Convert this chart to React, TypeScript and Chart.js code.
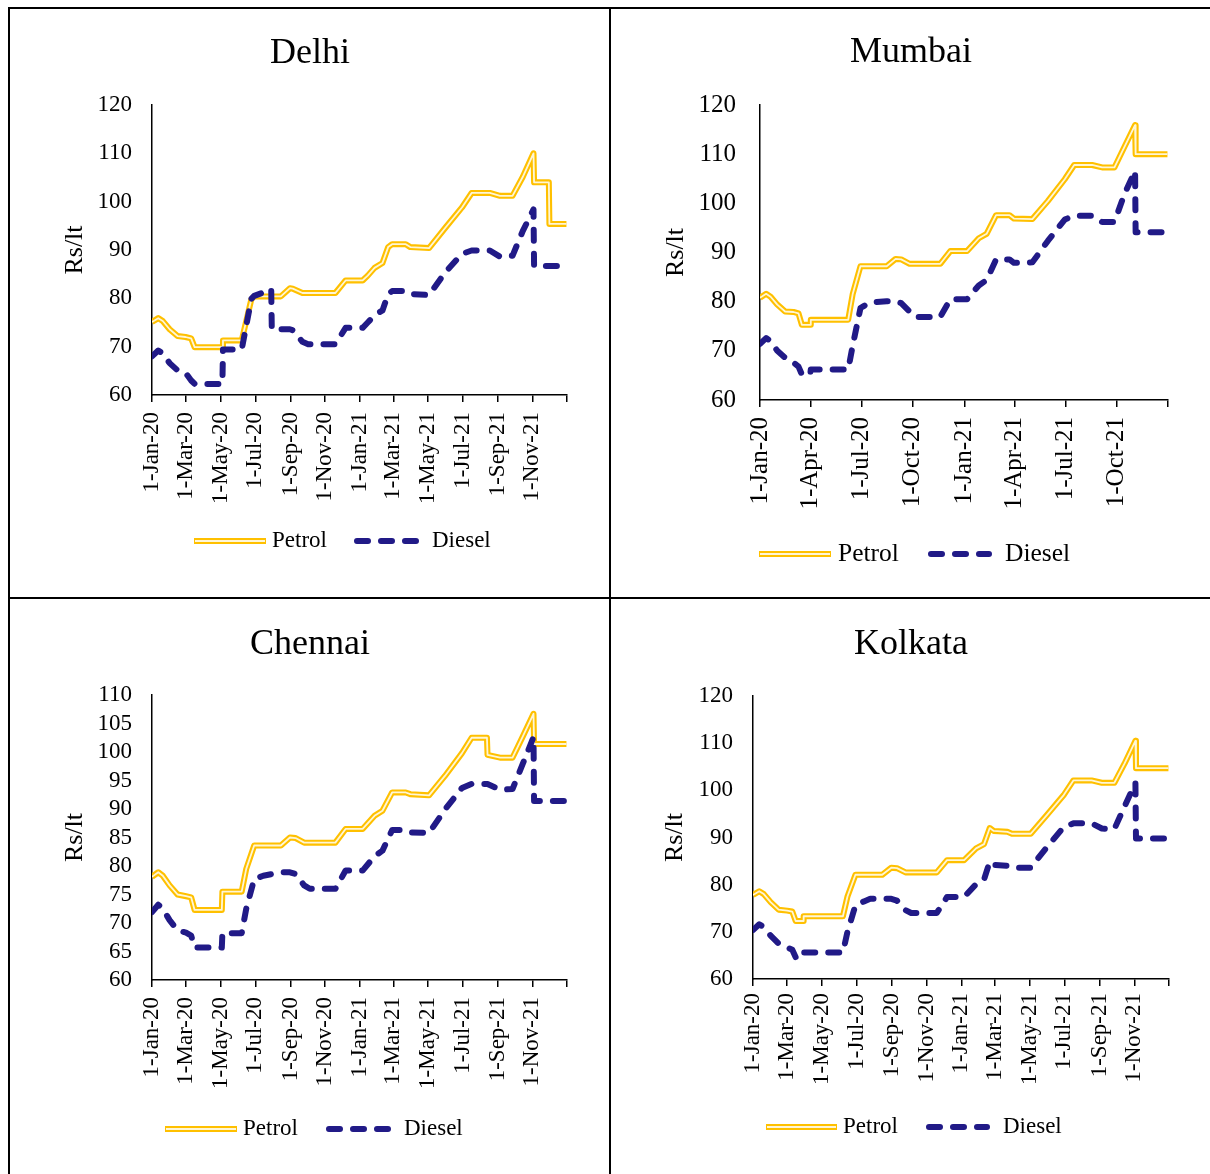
import React, { useEffect, useRef } from 'react';
import { Chart, registerables } from 'chart.js';

Chart.register(...registerables);

const FONT = "'Liberation Serif', 'Times New Roman', Times, serif";
const PETROL_GOLD = '#FFC000';
const PETROL_INNER = '#FFF6D6';
const DIESEL_NAVY = '#211A87';

// ---------- tick labels ----------
const twoMonthTickDates = ['2020-01-01', '2020-03-01', '2020-05-01', '2020-07-01', '2020-09-01', '2020-11-01', '2021-01-01', '2021-03-01', '2021-05-01', '2021-07-01', '2021-09-01', '2021-11-01', '2022-01-01'];
const twoMonthTickLabels = ['1-Jan-20', '1-Mar-20', '1-May-20', '1-Jul-20', '1-Sep-20', '1-Nov-20', '1-Jan-21', '1-Mar-21', '1-May-21', '1-Jul-21', '1-Sep-21', '1-Nov-21', ''];
const quarterTickDates = ['2020-01-01', '2020-04-01', '2020-07-01', '2020-10-01', '2021-01-01', '2021-04-01', '2021-07-01', '2021-10-01', '2022-01-01'];
const quarterTickLabels = ['1-Jan-20', '1-Apr-20', '1-Jul-20', '1-Oct-20', '1-Jan-21', '1-Apr-21', '1-Jul-21', '1-Oct-21', ''];

// ---------- Delhi ----------
const delhiDates = ['2020-01-01', '2020-01-12', '2020-01-20', '2020-02-01', '2020-02-15', '2020-02-29', '2020-03-10', '2020-03-16', '2020-05-04', '2020-05-05', '2020-06-07', '2020-06-24', '2020-06-29', '2020-07-15', '2020-07-29', '2020-07-30', '2020-08-15', '2020-08-31', '2020-09-05', '2020-09-22', '2020-10-02', '2020-11-19', '2020-12-07', '2021-01-06', '2021-01-15', '2021-01-27', '2021-02-10', '2021-02-20', '2021-02-27', '2021-03-23', '2021-03-31', '2021-05-03', '2021-05-31', '2021-06-30', '2021-07-17', '2021-08-18', '2021-09-05', '2021-09-27', '2021-10-15', '2021-11-03', '2021-11-04', '2021-11-30', '2021-12-01', '2021-12-31'];
const delhiPetrol = [75.1, 75.9, 75.3, 73.6, 72.2, 72.0, 71.7, 69.9, 69.9, 71.3, 71.3, 79.8, 80.4, 80.4, 80.4, 80.4, 80.4, 82.1, 82.0, 81.1, 81.1, 81.1, 83.7, 83.7, 84.7, 86.3, 87.3, 90.6, 91.2, 91.2, 90.6, 90.4, 94.5, 98.8, 101.8, 101.8, 101.2, 101.2, 105.1, 110.0, 104.0, 104.0, 95.4, 95.4];
const delhiDiesel = [68.0, 69.2, 68.6, 66.6, 65.1, 64.6, 63.0, 62.3, 62.3, 69.4, 69.4, 79.9, 80.5, 81.2, 81.9, 73.6, 73.6, 73.6, 73.4, 71.0, 70.5, 70.5, 73.9, 73.9, 75.0, 76.5, 77.5, 80.9, 81.5, 81.5, 80.9, 80.7, 85.3, 89.2, 89.9, 89.9, 88.6, 88.8, 93.9, 98.4, 86.7, 86.7, 86.7, 86.7];

// ---------- Mumbai ----------
const mumbaiDates = ['2020-01-01', '2020-01-12', '2020-01-20', '2020-02-01', '2020-02-15', '2020-03-01', '2020-03-10', '2020-03-16', '2020-03-31', '2020-04-01', '2020-06-07', '2020-06-15', '2020-06-29', '2020-07-15', '2020-08-15', '2020-08-31', '2020-09-10', '2020-09-25', '2020-10-05', '2020-11-19', '2020-12-07', '2021-01-06', '2021-01-27', '2021-02-10', '2021-02-27', '2021-03-23', '2021-03-31', '2021-05-03', '2021-05-31', '2021-06-30', '2021-07-17', '2021-08-18', '2021-09-05', '2021-09-27', '2021-10-15', '2021-11-03', '2021-11-04', '2021-12-31'];
const mumbaiPetrol = [80.8, 81.6, 81.0, 79.4, 78.0, 77.9, 77.6, 75.3, 75.3, 76.3, 76.3, 81.5, 87.2, 87.2, 87.2, 88.7, 88.6, 87.7, 87.7, 87.7, 90.3, 90.3, 92.9, 93.8, 97.6, 97.6, 96.9, 96.8, 100.5, 104.9, 107.8, 107.8, 107.3, 107.3, 111.5, 115.9, 110.0, 110.0];
const mumbaiDiesel = [71.4, 72.6, 72.0, 70.0, 68.6, 67.6, 66.8, 65.2, 65.2, 66.2, 66.2, 71.0, 78.7, 79.8, 80.1, 80.1, 79.7, 78.0, 76.9, 76.9, 80.5, 80.5, 83.3, 84.4, 88.6, 88.6, 87.9, 88.0, 92.4, 96.7, 97.5, 97.5, 96.2, 96.2, 101.9, 106.6, 94.1, 94.1];

// ---------- Chennai ----------
const chennaiDates = ['2020-01-01', '2020-01-12', '2020-01-20', '2020-02-01', '2020-02-15', '2020-03-01', '2020-03-10', '2020-03-16', '2020-05-03', '2020-05-04', '2020-06-07', '2020-06-15', '2020-06-29', '2020-07-15', '2020-08-15', '2020-08-31', '2020-09-10', '2020-09-25', '2020-10-05', '2020-11-19', '2020-12-07', '2021-01-06', '2021-01-27', '2021-02-10', '2021-02-27', '2021-03-23', '2021-03-31', '2021-05-03', '2021-05-31', '2021-06-30', '2021-07-17', '2021-08-13', '2021-08-14', '2021-09-05', '2021-09-27', '2021-10-15', '2021-11-03', '2021-11-04', '2021-12-31'];
const chennaiPetrol = [78.1, 78.9, 78.3, 76.6, 75.0, 74.7, 74.5, 72.3, 72.3, 75.5, 75.5, 79.5, 83.6, 83.6, 83.6, 85.0, 84.9, 84.1, 84.1, 84.1, 86.5, 86.5, 88.8, 89.7, 92.9, 92.9, 92.6, 92.4, 95.8, 99.8, 102.5, 102.5, 99.5, 99.0, 99.0, 102.7, 106.7, 101.4, 101.4];
const chennaiDiesel = [71.9, 73.2, 72.5, 70.5, 68.7, 68.3, 67.8, 65.7, 65.7, 68.2, 68.2, 72.5, 77.7, 78.3, 78.9, 78.9, 78.6, 76.6, 76.0, 76.0, 79.2, 79.2, 81.7, 82.7, 86.3, 86.3, 85.9, 85.8, 89.9, 93.7, 94.4, 94.4, 94.4, 93.4, 93.5, 97.9, 102.6, 91.4, 91.4];

// ---------- Kolkata ----------
const kolkataDates = ['2020-01-01', '2020-01-12', '2020-01-20', '2020-02-01', '2020-02-15', '2020-03-01', '2020-03-10', '2020-03-16', '2020-03-29', '2020-03-30', '2020-06-07', '2020-06-15', '2020-06-29', '2020-07-15', '2020-07-25', '2020-08-15', '2020-08-31', '2020-09-10', '2020-09-25', '2020-10-05', '2020-11-19', '2020-12-07', '2021-01-06', '2021-01-27', '2021-02-10', '2021-02-20', '2021-02-27', '2021-03-23', '2021-03-31', '2021-05-03', '2021-05-31', '2021-06-30', '2021-07-17', '2021-08-18', '2021-09-05', '2021-09-27', '2021-10-15', '2021-11-03', '2021-11-04', '2021-12-31'];
const kolkataPetrol = [77.8, 78.6, 78.0, 76.3, 74.7, 74.5, 74.3, 72.3, 72.3, 73.3, 73.3, 77.5, 82.1, 82.1, 82.1, 82.1, 83.6, 83.5, 82.6, 82.6, 82.6, 85.2, 85.2, 87.7, 88.6, 92.0, 91.4, 91.2, 90.8, 90.8, 94.7, 99.0, 102.1, 102.1, 101.6, 101.6, 105.7, 110.5, 104.7, 104.7];
const kolkataDiesel = [70.4, 71.6, 71.0, 69.2, 67.5, 66.7, 66.2, 64.6, 64.6, 65.6, 65.6, 70.0, 75.6, 76.5, 77.0, 77.0, 77.0, 76.6, 74.6, 74.0, 74.0, 77.4, 77.4, 80.1, 81.1, 84.9, 84.2, 84.0, 83.6, 83.6, 87.9, 92.2, 93.0, 93.0, 91.9, 91.8, 96.6, 101.6, 89.8, 89.8];

const BASE = Date.UTC(2020, 0, 1);
function dayNum(s: string): number {
  const [y, m, d] = s.split('-').map(Number);
  return Math.round((Date.UTC(y, m - 1, d) - BASE) / 86400000);
}

type Layout = {
  left: number; top: number; width: number; height: number;
  area: { l: number; t: number; r: number; b: number };
  titleCx: number; titleBase: number; yTitleX: number;
  tickFont: number; yLabelGap: number; xLabelGap: number;
  legend: { pX1: number; pX2: number; pText: number; dX1: number; dX2: number; dText: number; y: number; font: number };
};

type PanelDef = {
  title: string; dates: string[]; petrol: number[]; diesel: number[];
  tickDates: string[]; tickLabels: string[]; yMin: number; yMax: number; yStep: number;
  layout: Layout;
};

const panels: PanelDef[] = [
  {
    title: 'Delhi', dates: delhiDates, petrol: delhiPetrol, diesel: delhiDiesel,
    tickDates: twoMonthTickDates, tickLabels: twoMonthTickLabels, yMin: 60, yMax: 120, yStep: 10,
    layout: {
      left: 12, top: 10, width: 596, height: 586,
      area: { l: 152, t: 105, r: 567, b: 395 },
      titleCx: 310, titleBase: 63, yTitleX: 75,
      tickFont: 23, yLabelGap: 20, xLabelGap: 10,
      legend: { pX1: 194, pX2: 266, pText: 272, dX1: 354, dX2: 419, dText: 432, y: 541, font: 23 },
    },
  },
  {
    title: 'Mumbai', dates: mumbaiDates, petrol: mumbaiPetrol, diesel: mumbaiDiesel,
    tickDates: quarterTickDates, tickLabels: quarterTickLabels, yMin: 60, yMax: 120, yStep: 10,
    layout: {
      left: 612, top: 10, width: 596, height: 586,
      area: { l: 760, t: 105, r: 1169, b: 400 },
      titleCx: 911, titleBase: 62, yTitleX: 676,
      tickFont: 25, yLabelGap: 24, xLabelGap: 10,
      legend: { pX1: 759, pX2: 831, pText: 838, dX1: 928, dX2: 992, dText: 1005, y: 554, font: 25.5 },
    },
  },
  {
    title: 'Chennai', dates: chennaiDates, petrol: chennaiPetrol, diesel: chennaiDiesel,
    tickDates: twoMonthTickDates, tickLabels: twoMonthTickLabels, yMin: 60, yMax: 110, yStep: 5,
    layout: {
      left: 12, top: 601, width: 596, height: 573,
      area: { l: 152, t: 695, r: 567, b: 980 },
      titleCx: 310, titleBase: 654, yTitleX: 75,
      tickFont: 23, yLabelGap: 20, xLabelGap: 10,
      legend: { pX1: 165, pX2: 237, pText: 243, dX1: 326, dX2: 391, dText: 404, y: 1129, font: 23 },
    },
  },
  {
    title: 'Kolkata', dates: kolkataDates, petrol: kolkataPetrol, diesel: kolkataDiesel,
    tickDates: twoMonthTickDates, tickLabels: twoMonthTickLabels, yMin: 60, yMax: 120, yStep: 10,
    layout: {
      left: 612, top: 601, width: 596, height: 573,
      area: { l: 753, t: 696, r: 1169, b: 979 },
      titleCx: 911, titleBase: 654, yTitleX: 675,
      tickFont: 23, yLabelGap: 20, xLabelGap: 7,
      legend: { pX1: 766, pX2: 837, pText: 843, dX1: 926, dX2: 990, dText: 1003, y: 1127, font: 23 },
    },
  },
];

const decorPlugin = {
  id: 'decor',
  afterDraw(chart: any, _args: any, opts: any) {
    const ctx = chart.ctx as CanvasRenderingContext2D;
    ctx.save();
    // title
    ctx.fillStyle = '#000';
    ctx.font = `36px ${FONT}`;
    ctx.textAlign = 'center';
    ctx.textBaseline = 'alphabetic';
    ctx.fillText(opts.title, opts.titleX, opts.titleY);
    // legend
    const lg = opts.legend;
    ctx.lineCap = 'butt';
    ctx.setLineDash([]);
    ctx.strokeStyle = PETROL_GOLD;
    ctx.lineWidth = 6;
    ctx.beginPath();
    ctx.moveTo(lg.pX1, lg.y);
    ctx.lineTo(lg.pX2, lg.y);
    ctx.stroke();
    ctx.strokeStyle = PETROL_INNER;
    ctx.lineWidth = 1.8;
    ctx.beginPath();
    ctx.moveTo(lg.pX1 + 1, lg.y);
    ctx.lineTo(lg.pX2 - 1, lg.y);
    ctx.stroke();
    ctx.strokeStyle = DIESEL_NAVY;
    ctx.lineWidth = 6;
    ctx.lineCap = 'round';
    ctx.setLineDash([11, 13]);
    ctx.beginPath();
    ctx.moveTo(lg.dX1 + 3, lg.y);
    ctx.lineTo(lg.dX2 - 3, lg.y);
    ctx.stroke();
    ctx.setLineDash([]);
    ctx.fillStyle = '#000';
    ctx.font = `${lg.font}px ${FONT}`;
    ctx.textAlign = 'left';
    ctx.textBaseline = 'middle';
    ctx.fillText('Petrol', lg.pText, lg.y);
    ctx.fillText('Diesel', lg.dText, lg.y);
    ctx.restore();
  },
};

function Panel({ def }: { def: PanelDef }) {
  const ref = useRef<HTMLCanvasElement | null>(null);
  const L = def.layout;

  useEffect(() => {
    if (!ref.current) return;
    const l = L.area.l - L.left;
    const t = L.area.t - L.top;
    const r = L.area.r - L.left;
    const b = L.area.b - L.top;
    const tickDays = def.tickDates.map(dayNum);
    const labelByDay = new Map<number, string>();
    tickDays.forEach((d, i) => labelByDay.set(d, def.tickLabels[i]));
    const toPts = (vals: number[]) => def.dates.map((d, i) => ({ x: dayNum(d), y: vals[i] }));
    const yTitleLine = 26 * 1.2;

    const chart = new Chart(ref.current, {
      type: 'line',
      data: {
        datasets: [
          {
            label: 'Diesel', data: toPts(def.diesel), borderColor: DIESEL_NAVY, borderWidth: 6,
            borderDash: [11, 13], borderCapStyle: 'round', borderJoinStyle: 'round',
            pointRadius: 0, tension: 0, fill: false,
          },
          {
            label: 'Petrol', data: toPts(def.petrol), borderColor: PETROL_INNER, borderWidth: 1.8,
            borderJoinStyle: 'round', pointRadius: 0, tension: 0, fill: false,
          },
          {
            label: 'Petrol', data: toPts(def.petrol), borderColor: PETROL_GOLD, borderWidth: 6,
            borderJoinStyle: 'round', pointRadius: 0, tension: 0, fill: false,
          },
        ],
      },
      options: {
        responsive: false,
        animation: false,
        events: [],
        layout: { padding: { top: t, left: 0, right: L.width - r, bottom: 0 } },
        scales: {
          x: {
            type: 'linear',
            min: 0,
            max: dayNum('2022-01-01'),
            afterBuildTicks: (s: any) => { s.ticks = tickDays.map((v) => ({ value: v })); },
            afterFit: (s: any) => { s.height = L.height - b; },
            ticks: {
              autoSkip: false, minRotation: 90, maxRotation: 90, padding: L.xLabelGap,
              color: '#000', font: { family: FONT, size: L.tickFont },
              callback: (v: any) => labelByDay.get(Number(v)) ?? '',
            },
            grid: { display: true, drawOnChartArea: false, drawTicks: true, tickLength: 7, color: '#000', lineWidth: 1.5 },
            border: { display: true, color: '#000', width: 1.5 },
          },
          y: {
            type: 'linear',
            min: def.yMin,
            max: def.yMax,
            afterFit: (s: any) => { s.width = l; },
            ticks: { autoSkip: false, stepSize: def.yStep, padding: L.yLabelGap, color: '#000', font: { family: FONT, size: L.tickFont } },
            grid: { display: false, drawTicks: false },
            border: { display: true, color: '#000', width: 1.5 },
            title: {
              display: true, text: 'Rs/lt', color: '#000', font: { family: FONT, size: 26 },
              padding: { top: L.yTitleX - L.left - yTitleLine / 2, bottom: 0 },
            },
          },
        },
        plugins: {
          legend: { display: false },
          tooltip: { enabled: false },
          decor: {
            title: def.title,
            titleX: L.titleCx - L.left,
            titleY: L.titleBase - L.top,
            legend: {
              pX1: L.legend.pX1 - L.left, pX2: L.legend.pX2 - L.left, pText: L.legend.pText - L.left,
              dX1: L.legend.dX1 - L.left, dX2: L.legend.dX2 - L.left, dText: L.legend.dText - L.left,
              y: L.legend.y - L.top, font: L.legend.font,
            },
          },
        } as any,
      } as any,
      plugins: [decorPlugin],
    });
    return () => chart.destroy();
  }, []);

  return (
    <canvas
      ref={ref}
      width={L.width}
      height={L.height}
      style={{ position: 'absolute', left: L.left, top: L.top, width: L.width, height: L.height }}
    />
  );
}

export default function App() {
  const line = (s: React.CSSProperties) => <div style={{ position: 'absolute', background: '#000', ...s }} />;
  return (
    <div style={{ position: 'absolute', left: 0, top: 0, width: 1210, height: 1174, background: '#fff', overflow: 'hidden' }}>
      {line({ left: 8, top: 7, width: 1202, height: 2 })}
      {line({ left: 8, top: 7, width: 2, height: 1167 })}
      {line({ left: 609, top: 7, width: 2, height: 1167 })}
      {line({ left: 8, top: 597, width: 1202, height: 2 })}
      {panels.map((p) => <Panel key={p.title} def={p} />)}
    </div>
  );
}
